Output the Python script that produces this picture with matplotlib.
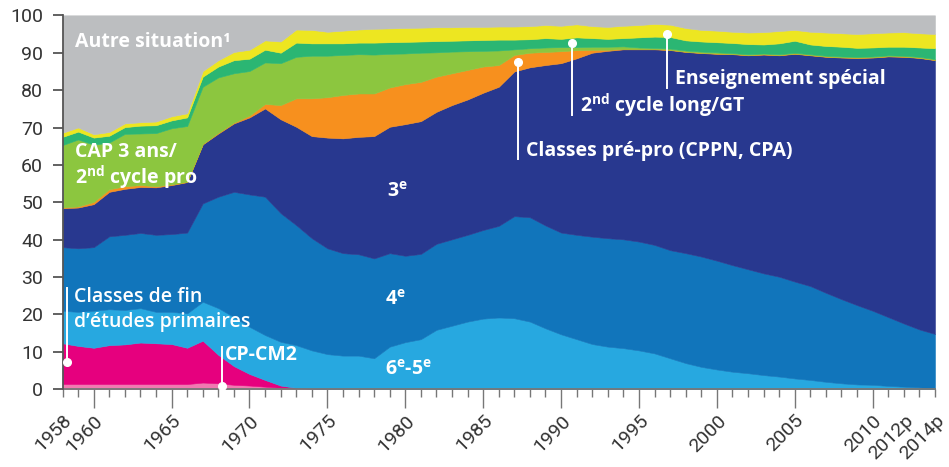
import matplotlib
matplotlib.use("Agg")
import matplotlib.pyplot as plt

plt.rcParams['font.family'] = ['Roboto', 'DejaVu Sans']
plt.rcParams['mathtext.fontset'] = 'custom'
plt.rcParams['mathtext.rm'] = 'Open Sans'
plt.rcParams['mathtext.bf'] = 'Open Sans:bold'

# années 1958 -> 2014 (2012 et 2014 provisoires)
years = list(range(1958, 2015))

# parts en %
cp_cm2 = [1.4, 1.4, 1.4, 1.4, 1.4, 1.4, 1.4, 1.4, 1.4, 1.8,
          1.6, 1.2, 1.0, 0.7, 0.4, 0.3, 0.2, 0.1, 0.0, 0.0,
          0.0, 0.0, 0.0, 0.0, 0.0, 0.0, 0.0, 0.0, 0.0, 0.0,
          0.0, 0.0, 0.0, 0.0, 0.0, 0.0, 0.0, 0.0, 0.0, 0.0,
          0.0, 0.0, 0.0, 0.0, 0.0, 0.0, 0.0, 0.0, 0.0, 0.0,
          0.0, 0.0, 0.0, 0.0, 0.0, 0.0, 0.0]
fin_etudes = [10.9, 10.2, 9.7, 10.4, 10.6, 11.1, 10.9, 10.7, 9.7, 11.2,
              7.6, 5.0, 3.1, 1.8, 0.6, 0.1, 0.0, 0.0, 0.0, 0.0,
              0.0, 0.0, 0.0, 0.0, 0.0, 0.0, 0.0, 0.0, 0.0, 0.0,
              0.0, 0.0, 0.0, 0.0, 0.0, 0.0, 0.0, 0.0, 0.0, 0.0,
              0.0, 0.0, 0.0, 0.0, 0.0, 0.0, 0.0, 0.0, 0.0, 0.0,
              0.0, 0.0, 0.0, 0.0, 0.0, 0.0, 0.0]
six_cinq = [8.7, 9.1, 9.9, 9.6, 9.2, 9.2, 8.4, 8.6, 9.2, 10.4,
            12.5, 13.1, 12.6, 12.0, 11.7, 11.4, 10.2, 9.3, 9.0, 9.0,
            8.3, 11.4, 12.6, 13.4, 15.9, 17.0, 18.1, 18.9, 19.2, 19.0,
            18.1, 16.3, 14.7, 13.4, 12.1, 11.4, 11.0, 10.4, 9.6, 8.3,
            7.0, 6.0, 5.3, 4.7, 4.3, 3.8, 3.4, 2.9, 2.5, 2.0,
            1.6, 1.3, 1.2, 0.9, 0.7, 0.5, 0.4]
quatrieme = [17.0, 17.0, 17.0, 19.5, 20.1, 20.1, 20.6, 20.8, 21.6, 26.3,
             29.8, 33.5, 35.4, 37.0, 34.4, 32.1, 30.0, 28.3, 27.4, 27.1,
             26.7, 25.0, 23.1, 22.8, 23.0, 23.1, 23.2, 23.7, 24.5, 27.3,
             27.9, 27.5, 27.2, 27.9, 28.7, 29.0, 29.1, 29.1, 29.0, 28.9,
             29.4, 29.5, 29.1, 28.5, 27.8, 27.2, 26.7, 25.9, 25.1, 23.8,
             22.5, 21.2, 19.8, 18.4, 16.9, 15.5, 14.4]
troisieme = [10.4, 10.9, 11.5, 11.9, 12.3, 12.3, 12.7, 13.1, 13.5, 15.8,
             16.9, 18.3, 20.6, 23.6, 25.1, 26.3, 27.3, 29.6, 30.7, 31.4,
             32.7, 33.8, 35.2, 35.5, 35.3, 35.9, 36.2, 36.7, 37.2, 38.7,
             40.1, 42.9, 45.3, 47.2, 49.2, 50.1, 50.8, 51.4, 52.3, 53.5,
             53.8, 54.4, 55.3, 56.4, 57.2, 58.5, 59.2, 60.9, 61.7, 63.1,
             64.6, 66.1, 67.7, 69.7, 71.3, 72.6, 73.2]
pre_pro = [0.2, 0.3, 0.6, 0.7, 0.7, 0.5, 0.3, 0.2, 0.1, 0.1,
           0.2, 0.2, 0.5, 1.2, 3.8, 7.6, 10.1, 10.8, 11.6, 11.6,
           11.4, 10.5, 10.7, 10.5, 9.4, 8.5, 7.9, 7.0, 5.8, 4.4,
           3.9, 3.5, 3.2, 2.2, 0.8, 0.3, 0.1, 0.1, 0.1, 0.1,
           0.1, 0.1, 0.1, 0.1, 0.1, 0.1, 0.1, 0.1, 0.1, 0.1,
           0.1, 0.1, 0.1, 0.1, 0.1, 0.1, 0.1]
cap_pro = [16.7, 17.9, 15.3, 12.5, 14.0, 13.8, 14.2, 15.0, 14.9, 15.3,
           14.8, 13.2, 11.9, 11.1, 11.2, 11.1, 11.4, 11.1, 10.7, 10.5,
           10.4, 9.0, 8.2, 7.8, 6.5, 5.8, 5.0, 4.2, 3.9, 1.5,
           1.2, 1.2, 1.1, 0.8, 0.8, 0.8, 0.7, 0.4, 0.3, 0.3,
           0.3, 0.3, 0.3, 0.2, 0.2, 0.2, 0.2, 0.2, 0.2, 0.2,
           0.2, 0.2, 0.2, 0.2, 0.2, 0.2, 0.2]
long_gt = [2.2, 2.1, 1.9, 1.8, 1.8, 2.1, 2.1, 2.1, 2.3, 2.7,
           2.9, 3.5, 3.3, 3.4, 2.8, 3.8, 3.3, 3.3, 3.1, 3.1,
           3.2, 3.1, 3.1, 3.0, 3.0, 2.9, 2.9, 2.9, 2.9, 2.6,
           2.4, 2.5, 2.2, 2.6, 2.3, 2.1, 2.2, 2.7, 3.0, 3.1,
           2.7, 2.7, 2.7, 2.7, 2.7, 2.4, 2.9, 3.2, 2.6, 2.6,
           2.6, 2.4, 2.4, 2.3, 2.4, 2.5, 2.9]
special = [1.1, 1.1, 0.9, 1.0, 1.0, 0.9, 1.0, 1.1, 1.1, 1.5,
           1.7, 2.2, 2.4, 2.5, 3.0, 3.5, 3.6, 3.1, 3.4, 3.5,
           3.7, 3.7, 3.7, 3.7, 3.7, 3.6, 3.6, 3.5, 3.5, 3.5,
           3.5, 3.5, 3.5, 3.5, 3.2, 3.2, 3.3, 3.3, 3.4, 3.3,
           3.3, 3.1, 3.1, 3.0, 3.1, 3.3, 3.3, 2.9, 3.4, 3.6,
           3.6, 3.7, 3.8, 3.8, 3.9, 3.8, 3.8]
autre = [31.4, 30.0, 31.8, 31.2, 28.9, 28.6, 28.4, 27.0, 26.2, 14.9,
         12.0, 9.8, 9.2, 6.7, 7.0, 3.8, 3.9, 4.4, 4.1, 3.8,
         3.6, 3.5, 3.4, 3.3, 3.2, 3.2, 3.1, 3.1, 3.0, 3.0,
         2.9, 2.6, 2.8, 2.4, 2.9, 3.1, 2.8, 2.6, 2.3, 2.5,
         3.4, 3.9, 4.1, 4.4, 4.6, 4.5, 4.2, 3.9, 4.4, 4.6,
         4.8, 5.0, 4.8, 4.6, 4.5, 4.8, 5.0]

colors = ["#F07AB0", "#E6007E", "#27A8E0", "#1175BB", "#28388F",
          "#F7901E", "#8CC63F", "#2BB673", "#EDE621", "#BCBEC0"]

label_years = [1958, 1960, 1965, 1970, 1975, 1980, 1985, 1990, 1995,
               2000, 2005, 2010, 2012, 2014]
label_texts = ["1958", "1960", "1965", "1970", "1975", "1980", "1985", "1990",
               "1995", "2000", "2005", "2010", "2012p", "2014p"]

fig = plt.figure(figsize=(9.49, 4.67), dpi=100)
ax = fig.add_axes([0.0659, 0.1664, 0.9193, 0.8008])

polys = ax.stackplot(years, cp_cm2, fin_etudes, six_cinq, quatrieme, troisieme,
                     pre_pro, cap_pro, long_gt, special, autre, colors=colors)
for p, c in zip(polys, colors):
    p.set_edgecolor(c)
    p.set_linewidth(0.4)

ax.set_xlim(1958, 2014)
ax.set_ylim(0, 100)

# axes
for s in ["top", "right"]:
    ax.spines[s].set_visible(False)
ax.spines["left"].set_color("#555555")
ax.spines["bottom"].set_color("#777777")
ax.spines["left"].set_linewidth(1.3)
ax.spines["bottom"].set_linewidth(1.3)
ax.spines["left"].set_zorder(5)

ax.set_yticks(range(0, 101, 10))
ax.tick_params(axis="y", length=7, width=1.3, color="#555555", pad=7,
               labelsize=14, labelcolor="#333333")

ax.set_xticks(years, minor=True)
ax.set_xticks(label_years, label_texts)
ax.tick_params(axis="x", which="minor", length=6, width=1, color="#777777")
ax.tick_params(axis="x", which="major", length=14, width=1, color="#777777",
               pad=2, labelsize=14, labelcolor="#333333")
for t, yr in zip(ax.xaxis.get_major_ticks(), label_years):
    if yr in (1958, 2012, 2014):
        t.tick1line.set_markersize(6)
for lab in ax.get_xticklabels():
    lab.set_rotation(45)
    lab.set_ha("right")
    lab.set_rotation_mode("anchor")

# textes dans les aires
txt = dict(color="white", fontsize=14, fontweight="bold", va="center",
           ha="left", family=["Open Sans", "DejaVu Sans"])
ax.text(1958.8, 92.9, "Autre situation¹", **txt)
ax.text(1958.8, 63.4, "CAP 3 ans/", **txt)
ax.text(1958.8, 56.5, r"2$^{\mathbf{nd}}$ cycle pro", **txt)
ax.text(1978.8, 52.8, r"3$^{\mathbf{e}}$", **txt)
ax.text(1978.7, 23.9, r"4$^{\mathbf{e}}$", **txt)
ax.text(1978.7, 5.2, r"6$^{\mathbf{e}}$-5$^{\mathbf{e}}$", **txt)
ax.text(1958.74, 24.7, "Classes de fin", **dict(txt, fontweight="semibold"))
ax.text(1958.74, 18.0, "d’études primaires", **dict(txt, fontweight="semibold"))
ax.text(1968.43, 9.2, "CP-CM2", **txt)
ax.text(1987.75, 63.7, "Classes pré-pro (CPPN, CPA)", **txt)
ax.text(1991.2, 75.7, r"2$^{\mathbf{nd}}$ cycle long/GT", **txt)
ax.text(1997.3, 83.0, "Enseignement spécial", **txt)

# traits de rappel
callouts = [(1958.29, 7.3, 27.0), (1968.24, 0.9, 11.4), (1987.24, 87.5, 61.5),
            (1990.7, 92.6, 73.4), (1996.8, 95.0, 80.6)]
for xc, y0, y1 in callouts:
    ax.plot([xc, xc], [y0, y1], color="white", lw=1.4, zorder=6)
    ax.plot(xc, y0, "o", color="white", ms=5.5, zorder=7)

fig.savefig("out.png", dpi=100)
